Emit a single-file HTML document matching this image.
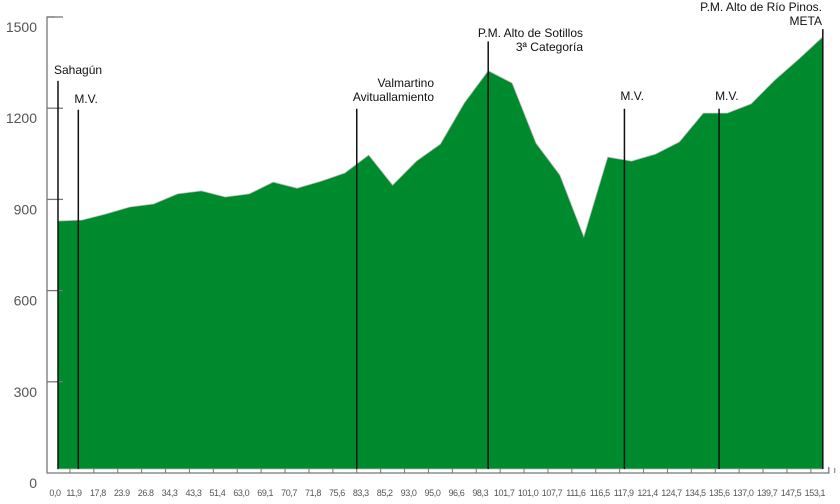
<!DOCTYPE html>
<html><head><meta charset="utf-8"><style>
body{margin:0;background:#fff}
svg{display:block}
text{font-family:"Liberation Sans",sans-serif}
</style></head><body>
<svg id="chart" width="840" height="504"></svg>
<script>
const categories=["0,0","11,9","17,8","23.9","26.8","34,3","43,3","51,4","63,0","69,1","70,7","71,8","75,6","83,3","85,2","93,0","95,0","96,6","98,3","101,7","101,0","107,7","111,6","116,5","117,9","121,4","124,7","134,5","135,6","137,0","139,7","147,5","153,1"];
const elevations=[829,832,852,875,885,918,928,908,918,957,937,960,987,1046,947,1026,1082,1217,1323,1283,1085,980,777,1039,1026,1049,1089,1184,1184,1214,1293,1362,1435];
const yTicks=[0,300,600,900,1200,1500];
const markerPos=[0,0.85,12.5,18,23.7,27.66,32];
const markerTop=[1290,1195,1198,1420,1198,1198,1460];
const markerLabels=[["Sahagún"],["M.V."],["Valmartino","Avituallamiento"],["P.M. Alto de Sotillos","3ª Categoría"],["M.V."],["M.V."],["P.M. Alto de Río Pinos.","META"]];
const markerAlign=["start","start","end","end","start","start","end"];

const NS="http://www.w3.org/2000/svg";
const svg=document.getElementById('chart');
const x0=58,dx=23.9,yBase=473,yTop=17;
const X=i=>x0+i*dx;
const Y=v=>yBase-(v/1500)*(yBase-yTop);
const labelY=[74,103,87,37,100,100,11];
const labelRight=[0,0,434,583,0,0,822];
function mk(t,a,p){const e=document.createElementNS(NS,t);for(const k in a)e.setAttribute(k,a[k]);(p||svg).appendChild(e);return e;}

let d=`M${X(0)},469 `;
elevations.forEach((v,i)=>{d+=`L${X(i).toFixed(1)},${Y(v).toFixed(1)} `;});
d+=`L${X(elevations.length-1)},469 Z`;
const area=mk('path',{d:d,fill:'#008a2e',stroke:'#bbb','stroke-width':0.8});



const yax=mk('path',{d:`M55,${yTop}H47V${yBase}H${X(32)+6}V${yBase-6}`,fill:'none',stroke:'#777','stroke-width':1.3});


yTicks.forEach(v=>{
  if(v>0){const t=mk('line',{x1:47,x2:63,y1:Y(v),y2:Y(v),stroke:'#777','stroke-width':1.3});
  
  }
  const l=mk('text',{x:37,y:(v===0?488:Y(v)+15),'text-anchor':'end','font-size':14,fill:'#555'});
  l.textContent=v;
  
  
});
categories.forEach((c,i)=>{
  const t=mk('line',{x1:X(i)+dx/2,x2:X(i)+dx/2,y1:yBase,y2:yBase-5,stroke:'#777','stroke-width':1});
  
  
  const lx=i===0?55:74+(i-1)*23.9;
  const l=mk('text',{x:lx,y:496,'text-anchor':'middle','font-size':9,'letter-spacing':-0.4,fill:'#555'});
  l.textContent=c;
  
  
});
markerPos.forEach((p,i)=>{
  const xx=X(p);
  const ln=mk('line',{x1:xx,x2:xx,y1:Y(markerTop[i]),y2:469,stroke:'#111','stroke-width':1.5});
  
  
  markerLabels[i].forEach((s,j)=>{
    const ax=markerAlign[i]==='start'?xx-4:labelRight[i];
    const t=mk('text',{x:ax,y:labelY[i]+j*14,'text-anchor':markerAlign[i],'font-size':12,fill:'#111'});
    t.textContent=s;
    
    
  });
});
</script>
</body></html>
